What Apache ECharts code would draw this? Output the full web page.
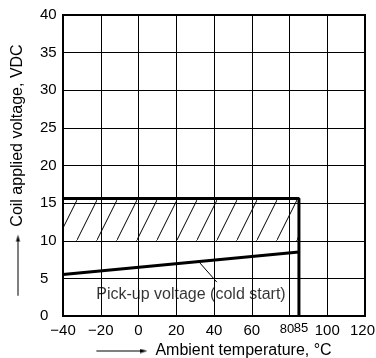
<!DOCTYPE html>
<html>
<head>
<meta charset="utf-8">
<title>Coil voltage vs ambient temperature</title>
<script src="https://cdn.jsdelivr.net/npm/echarts@6/dist/echarts.min.js"></script>
<style>
  html, body { margin: 0; padding: 0; background: #fff; }
  #main { width: 376px; height: 358px; }
</style>
</head>
<body>
<div id="main"></div>
<script>
  // data
  var upperLimit = [[-40, 15.6], [85, 15.6], [85, 0]];
  var hatchBand = [[-40, 10], [85, 15.6]];
  var pickUp = [[-40, 5.5], [85, 8.5]];
  var leader = [[32, 7.2], [41.5, 4.5]];
  var noteAt = [[27.8, 2.8]];
  var noteText = 'Pick-up voltage (cold start)';
  var extraXLabels = [85];

  var FONT = 'Liberation Sans';

  // hatch tile: one "/" stroke, slope 2
  var hatch = document.createElement('canvas');
  hatch.width = 20; hatch.height = 40;
  var hc = hatch.getContext('2d');
  hc.strokeStyle = '#000';
  hc.lineWidth = 1;
  hc.beginPath();
  hc.moveTo(-1, 42); hc.lineTo(21, -2);
  hc.stroke();

  // small arrow head for the axis names
  var arrow = document.createElement('canvas');
  arrow.width = 7; arrow.height = 5;
  var ac = arrow.getContext('2d');
  ac.fillStyle = '#000';
  ac.beginPath();
  ac.moveTo(0, 0.5); ac.lineTo(7, 2.5); ac.lineTo(0, 4.5); ac.closePath();
  ac.fill();

  function nameRich(len, pad) {
    return {
      ln: { width: len, height: 1, backgroundColor: '#000', verticalAlign: 'middle' },
      ar: { width: 7, height: 5, backgroundColor: { image: arrow }, verticalAlign: 'middle' },
      t: { fontSize: 16, fontFamily: FONT, color: '#000', padding: pad, verticalAlign: 'middle' }
    };
  }

  var myChart = echarts.init(document.getElementById('main'));
  var option = {
    backgroundColor: '#fff',
    animation: false,
    textStyle: { fontFamily: FONT, color: '#000' },
    grid: {
      left: 63, top: 15, right: 11, bottom: 42,
      outerBoundsMode: 'none',
      show: true, borderColor: '#000', borderWidth: 2, backgroundColor: 'transparent'
    },
    xAxis: [{
      type: 'value', min: -40, max: 120, interval: 20,
      axisLine: { show: false }, axisTick: { show: false },
      splitLine: { show: true, lineStyle: { color: '#000', width: 1 } },
      axisLabel: {
        color: '#000', fontSize: 15, fontFamily: FONT, margin: 7,
        formatter: function (v) {
          if (v === 80) return '{s|80}';
          if (v === 120) return '{e|120}';
          return String(v).replace('-', '\u2212');
        },
        rich: {
          s: { fontSize: 13, fontFamily: FONT, color: '#000', padding: [0, 5, 0, 0] },
          e: { fontSize: 15, fontFamily: FONT, color: '#000', padding: [0, 5, 0, 0] }
        }
      },
      name: '{ln|}{ar|}{t|Ambient temperature, °C}',
      nameLocation: 'middle', nameGap: 27,
      nameTextStyle: { rich: nameRich(44, [0, 0, 0, 8]) }
    }, {
      type: 'value', min: -40, max: 120, position: 'bottom',
      axisLine: { show: false }, axisTick: { show: false }, splitLine: { show: false },
      axisLabel: {
        customValues: extraXLabels,
        color: '#000', fontSize: 13, fontFamily: FONT, margin: 6,
        padding: [0, 0, 0, 4]
      }
    }],
    yAxis: {
      type: 'value', min: 0, max: 40, interval: 5,
      axisLine: { show: false }, axisTick: { show: false },
      splitLine: { show: true, lineStyle: { color: '#000', width: 1 } },
      axisLabel: { color: '#000', fontSize: 15, fontFamily: FONT, margin: 23, align: 'left' },
      name: '{ln|}{ar|}{t|Coil applied voltage, VDC}',
      nameLocation: 'middle', nameGap: 37,
      nameTextStyle: { rich: nameRich(54, [0, 9, 0, 8]) }
    },
    series: [{
      type: 'line', data: upperLimit, symbol: 'none',
      lineStyle: { color: '#000', width: 3 },
      markArea: {
        silent: true,
        itemStyle: { color: { image: hatch, repeat: 'repeat', x: -3 } },
        data: [[{ coord: hatchBand[0] }, { coord: hatchBand[1] }]]
      },
      z: 3
    }, {
      type: 'line', data: pickUp, symbol: 'none',
      lineStyle: { color: '#000', width: 3 }, z: 3
    }, {
      type: 'line', data: leader, symbol: 'none',
      lineStyle: { color: '#000', width: 1 }, z: 3
    }, {
      type: 'scatter', data: noteAt, symbolSize: 0,
      label: {
        show: true, position: 'inside', formatter: noteText,
        color: '#000', fontSize: 16, fontFamily: FONT
      }
    }]
  };
  myChart.setOption(option);
</script>
</body>
</html>
